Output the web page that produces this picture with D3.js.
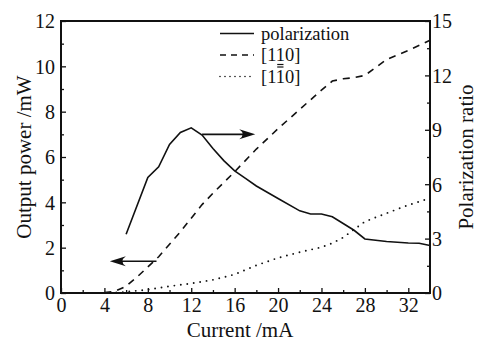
<!DOCTYPE html>
<html>
<head>
<meta charset="utf-8">
<script src="https://cdn.jsdelivr.net/npm/d3@7"></script>
</head>
<body style="margin:0;background:#fff">
<div id="chart"></div>
<script>
// polarization ratio (right axis)
const polCurrent = [6, 8, 9, 10, 11, 12, 13, 14, 15, 16, 17, 18, 20, 22, 23, 24, 25, 26, 27, 28, 30, 32, 33, 34];
const polRatio = [3.24, 6.37, 6.96, 8.19, 8.85, 9.11, 8.71, 7.97, 7.3, 6.74, 6.32, 5.9, 5.21, 4.53, 4.36, 4.36, 4.2, 3.83, 3.46, 2.98, 2.84, 2.76, 2.74, 2.62];

// [1 1_ 0] output power (left axis)
const p110Current = [4, 5, 6, 7, 8, 9, 10, 11, 12, 13, 14, 16, 18, 20, 22, 24, 25, 26, 27, 28, 29, 30, 32, 34];
const p110Power = [0.02, 0.08, 0.3, 0.7, 1.15, 1.6, 2.15, 2.7, 3.3, 3.9, 4.4, 5.35, 6.35, 7.25, 8.1, 8.95, 9.35, 9.45, 9.5, 9.6, 9.95, 10.3, 10.7, 11.15];

// [1 1- 0] output power (left axis)
const p1b0Current = [4.5, 6, 8, 10, 12, 14, 16, 18, 20, 22, 24, 25, 26, 27, 28, 30, 32, 34];
const p1b0Power = [0, 0.05, 0.15, 0.3, 0.42, 0.58, 0.82, 1.22, 1.55, 1.8, 2.02, 2.2, 2.45, 2.8, 3.15, 3.52, 3.88, 4.18];

const xTicks = [0, 4, 8, 12, 16, 20, 24, 28, 32];
const yLeftTicks = [0, 2, 4, 6, 8, 10, 12];
const yRightTicks = [0, 3, 6, 9, 12, 15];

// arrows: [x1, y1(left units), x2, y2]
const arrowLeft = [8.8, 1.4, 4.5, 1.4];
const arrowRight = [13, 7.0, 17.9, 7.0];

const W = 479, H = 341;
const margin = { top: 21, right: 49, bottom: 48, left: 61 };
const width = W - margin.left - margin.right,
      height = H - margin.top - margin.bottom;
const font = "Liberation Serif", fs = 20;

const svg = d3.select("#chart").append("svg")
  .attr("width", W).attr("height", H)
  .attr("font-family", font);

const g = svg.append("g")
  .attr("transform", "translate(" + margin.left + "," + margin.top + ")");

const x = d3.scaleLinear().domain([0, 34]).range([0, width]);
const yL = d3.scaleLinear().domain([0, 12]).range([height, 0]);
const yR = d3.scaleLinear().domain([0, 15]).range([height, 0]);

// minor ticks first
g.append("g").attr("transform", "translate(0," + height + ")")
  .call(d3.axisBottom(x).tickValues(d3.range(2, 34, 4)).tickSize(-3).tickFormat(""));
g.append("g")
  .call(d3.axisLeft(yL).tickValues(d3.range(1, 12, 2)).tickSize(-3).tickFormat(""));
g.append("g").attr("transform", "translate(" + width + ",0)")
  .call(d3.axisRight(yR).tickValues(d3.range(1.5, 15, 3)).tickSize(-3).tickFormat(""));

const xAxis = g.append("g").attr("transform", "translate(0," + height + ")")
  .call(d3.axisBottom(x).tickValues(xTicks).tickSize(-5).tickPadding(4));
const yAxisL = g.append("g")
  .call(d3.axisLeft(yL).tickValues(yLeftTicks).tickSize(-5).tickPadding(6));
const yAxisR = g.append("g").attr("transform", "translate(" + width + ",0)")
  .call(d3.axisRight(yR).tickValues(yRightTicks).tickSize(-5).tickPadding(2));

g.selectAll(".domain").remove();
g.selectAll(".tick line").attr("stroke", "#111").attr("stroke-width", 1.3);
g.selectAll(".tick text").attr("font-family", font).attr("font-size", fs).attr("fill", "#111");
yAxisL.selectAll(".tick text").attr("dy", "0.34em");
yAxisR.selectAll(".tick text").attr("dy", "0.34em");
xAxis.selectAll(".tick text").attr("dy", "0.74em");

// frame
g.append("rect")
  .attr("width", width).attr("height", height)
  .attr("fill", "none").attr("stroke", "#111").attr("stroke-width", 2);

// lines
const lineL = d3.line().x(d => x(d[0])).y(d => yL(d[1]));
const lineR = d3.line().x(d => x(d[0])).y(d => yR(d[1]));

g.append("path")
  .datum(d3.zip(polCurrent, polRatio))
  .attr("d", lineR)
  .attr("fill", "none").attr("stroke", "#111").attr("stroke-width", 1.6);

g.append("path")
  .datum(d3.zip(p110Current, p110Power))
  .attr("d", lineL)
  .attr("fill", "none").attr("stroke", "#111").attr("stroke-width", 1.6)
  .attr("stroke-dasharray", "7,6");

g.append("path")
  .datum(d3.zip(p1b0Current, p1b0Power))
  .attr("d", lineL)
  .attr("fill", "none").attr("stroke", "#111").attr("stroke-width", 1.9)
  .attr("stroke-linecap", "round")
  .attr("stroke-dasharray", "0,6.5");

// arrows
function arrow(a) {
  const x1 = x(a[0]), y1 = yL(a[1]), x2 = x(a[2]), y2 = yL(a[3]);
  const dir = Math.sign(x2 - x1);
  g.append("line")
    .attr("x1", x1).attr("y1", y1).attr("x2", x2 - dir * 8).attr("y2", y2)
    .attr("stroke", "#111").attr("stroke-width", 1.6);
  const L = 16, w = 5;
  g.append("path")
    .attr("d", "M" + x2 + "," + y2 +
      "L" + (x2 - dir * L) + "," + (y2 - w) +
      "Q" + (x2 - dir * 9) + "," + y2 + " " + (x2 - dir * L) + "," + (y2 + w) + "Z")
    .attr("fill", "#111");
}
arrow(arrowLeft);
arrow(arrowRight);

// legend
const legend = g.append("g").attr("transform", "translate(" + (220 - margin.left) + ",0)");
const rows = [
  { label: ["", "polarization", ""], dash: null, bar: null },
  { label: ["[1", "1", "0]"], dash: "6,5", bar: "under" },
  { label: ["[1", "1", "0]"], dash: "0,5", bar: "over" }
];
rows.forEach((r, i) => {
  const yy = 12.5 + i * 21.5;
  const ln = legend.append("line")
    .attr("x1", 0).attr("x2", 34).attr("y1", yy).attr("y2", yy)
    .attr("stroke", "#111").attr("stroke-width", 1.6);
  if (r.dash) ln.attr("stroke-dasharray", r.dash).attr("stroke-linecap", i === 2 ? "round" : "butt");
  const t = legend.append("text").attr("x", 41).attr("y", yy).attr("dy", "0.33em")
    .attr("font-family", font).attr("font-size", 18.5).attr("fill", "#111")
    .text(r.label.join(""));
  if (!r.bar) return;
  const node = t.node();
  const s = node.getStartPositionOfChar(2).x, e = node.getEndPositionOfChar(2).x;
  const by = r.bar === "under" ? yy + 9.5 : yy - 9.5;
  legend.append("line")
    .attr("x1", s + 1.5).attr("x2", e - 1.5).attr("y1", by).attr("y2", by)
    .attr("stroke", "#111").attr("stroke-width", 1.2);
});

// axis titles
svg.append("text")
  .attr("x", 240).attr("y", 337)
  .attr("text-anchor", "middle").attr("font-family", font).attr("font-size", fs + 1).attr("fill", "#111")
  .text("Current /mA");
svg.append("text")
  .attr("transform", "translate(31," + (margin.top + height / 2) + ") rotate(-90)")
  .attr("text-anchor", "middle").attr("font-family", font).attr("font-size", fs + 1).attr("fill", "#111")
  .text("Output power /mW");
svg.append("text")
  .attr("transform", "translate(466," + (margin.top + height / 2) + ") rotate(-90)")
  .attr("text-anchor", "middle").attr("dy", "0.35em").attr("font-family", font).attr("font-size", fs + 1).attr("fill", "#111")
  .text("Polarization ratio");
</script>
</body>
</html>
